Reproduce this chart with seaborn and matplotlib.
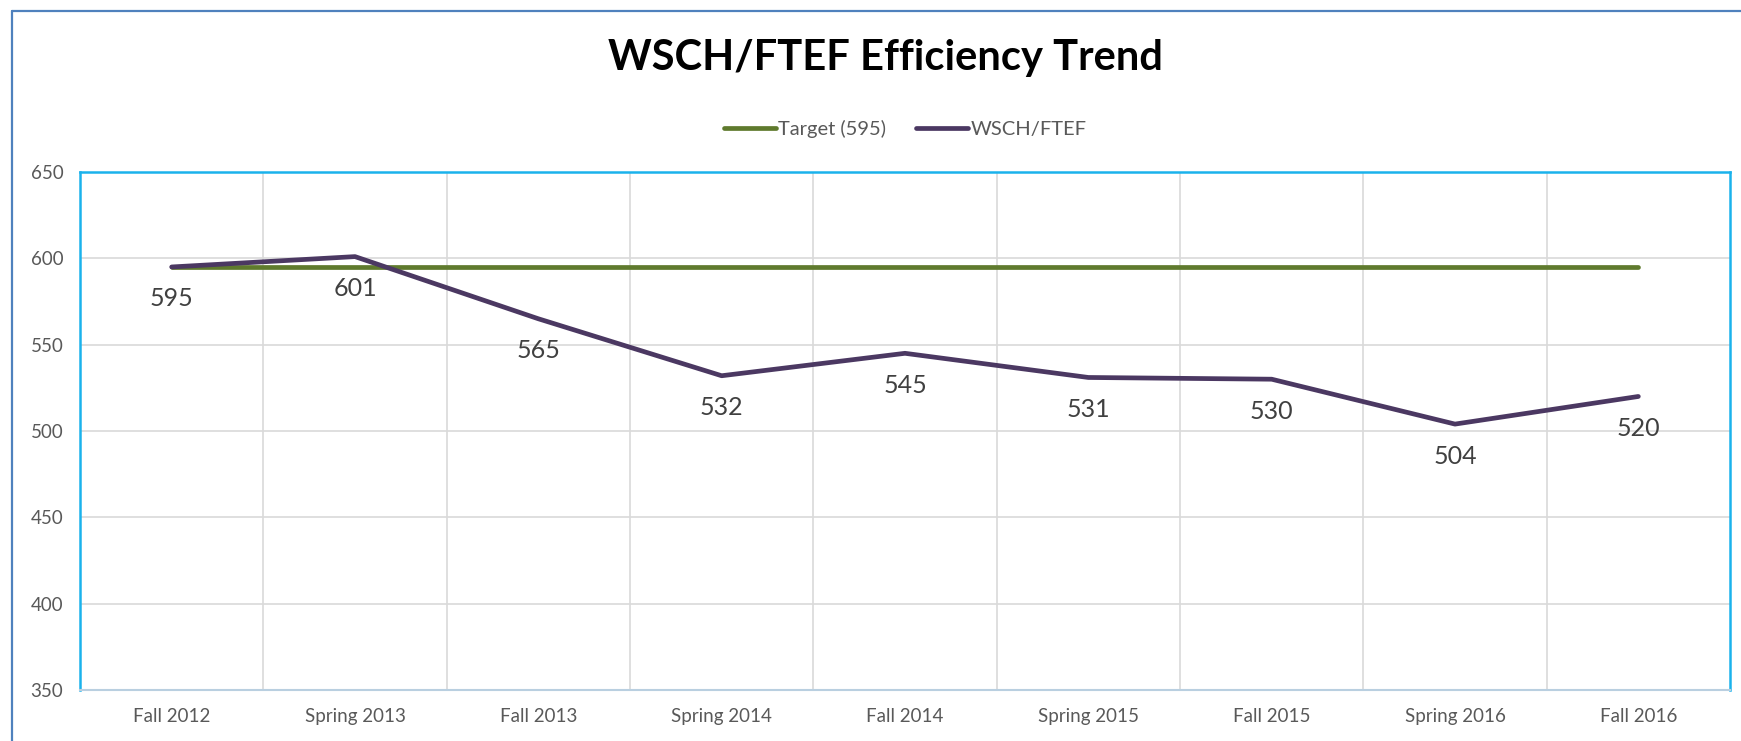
import numpy as np
import pandas as pd
import matplotlib
matplotlib.use("Agg")
import matplotlib.pyplot as plt
import seaborn as sns
from matplotlib.lines import Line2D

terms = ["Fall 2012", "Spring 2013", "Fall 2013", "Spring 2014", "Fall 2014",
         "Spring 2015", "Fall 2015", "Spring 2016", "Fall 2016"]
wsch_ftef = [595, 601, 565, 532, 545, 531, 530, 504, 520]
target = [595, 595, 595, 595, 595, 595, 595, 595, 595]

df = pd.DataFrame({"term": terms, "Target (595)": target, "WSCH/FTEF": wsch_ftef})

sns.set_theme(style="white")
plt.rcParams['font.family'] = ['Lato', 'DejaVu Sans']

fig = plt.figure(figsize=(17.41, 7.41), dpi=100)
ax = fig.add_axes([80 / 1741, 1 - 690 / 741, 1650 / 1741, 518 / 741])

green = "#5f7a2d"
purple = "#4b3862"
sns.lineplot(data=df, x="term", y="Target (595)", ax=ax, color=green, lw=3.4,
             sort=False, label="Target (595)", solid_capstyle="round")
sns.lineplot(data=df, x="term", y="WSCH/FTEF", ax=ax, color=purple, lw=3.4,
             sort=False, label="WSCH/FTEF", solid_capstyle="round")

for i, v in enumerate(wsch_ftef):
    ax.annotate(str(v), (i, v), xytext=(0, -23), textcoords="offset points",
                ha="center", va="center", fontsize=18, color="#404040")

ax.set_xlim(-0.5, len(terms) - 0.5)
ax.set_ylim(350, 650)
ax.set_yticks(np.arange(350, 651, 50))
ax.set_xticks(np.arange(len(terms)))
ax.set_xticks(np.arange(0.5, len(terms) - 1, 1), minor=True)
ax.set_xticklabels(terms)
ax.set_xlabel("")
ax.set_ylabel("")
ax.tick_params(axis="both", which="both", length=0, labelsize=13.5,
               labelcolor="#595959")
ax.tick_params(axis="x", pad=13)
ax.tick_params(axis="y", pad=12)
ax.grid(axis="y", which="major", color="#d9d9d9", lw=1.2)
ax.grid(axis="x", which="minor", color="#d9d9d9", lw=1.2)
ax.grid(axis="x", which="major", visible=False)

for s in ["top", "left", "right"]:
    ax.spines[s].set_color("#1ab2ec")
    ax.spines[s].set_linewidth(1.8)
ax.spines["bottom"].set_color("#b9cfe0")
ax.spines["bottom"].set_linewidth(1.5)

leg = ax.legend(loc="upper center", bbox_to_anchor=(0.5, 1.135), ncol=2,
                frameon=False, fontsize=14.5, handlelength=2.6,
                handletextpad=0.1, columnspacing=1.5)
for t in leg.get_texts():
    t.set_color("#595959")

fig.text(885 / 1741, 1 - 58 / 741, "WSCH/FTEF Efficiency Trend", ha="center",
         va="center", fontsize=30, fontweight="bold", color="black")

# outer chart border
fig.add_artist(Line2D([12 / 1741, 1], [1 - 11 / 741, 1 - 11 / 741],
                      transform=fig.transFigure, color="#4f81bd", lw=1.6))
fig.add_artist(Line2D([12 / 1741, 12 / 1741], [0, 1 - 11 / 741],
                      transform=fig.transFigure, color="#4f81bd", lw=1.6))

fig.savefig("out.png", dpi=100)
